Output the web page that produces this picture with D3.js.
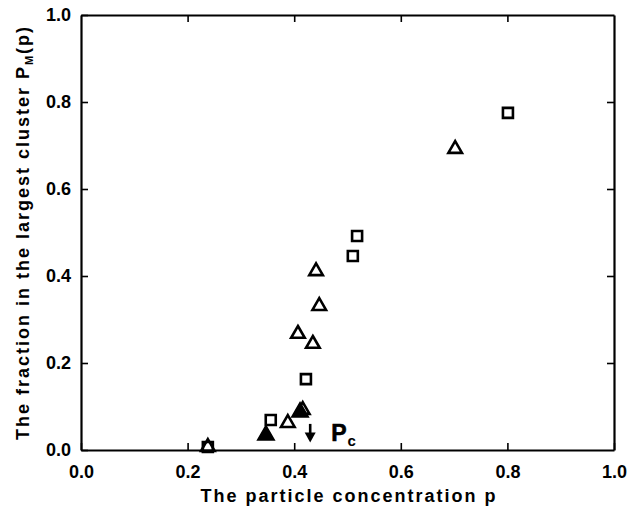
<!DOCTYPE html>
<html>
<head>
<meta charset="utf-8">
<script src="https://cdn.jsdelivr.net/npm/d3@7"></script>
<style>
  body { margin: 0; background: #fff; }
  text { font-family: "Liberation Sans", Arial, sans-serif; font-weight: bold; fill: #000; }
</style>
</head>
<body>
<div id="main"></div>
<script>
// open squares
const squaresX = [0.238, 0.356, 0.422, 0.510, 0.518, 0.801];
const squaresY = [0.007, 0.069, 0.163, 0.446, 0.492, 0.775];
// open triangles
const trianglesX = [0.238, 0.388, 0.416, 0.407, 0.435, 0.447, 0.441, 0.702];
const trianglesY = [0.007, 0.062, 0.092, 0.267, 0.244, 0.331, 0.411, 0.692];
// filled triangles
const filledX = [0.347, 0.411];
const filledY = [0.034, 0.087];

const tickValues = [0.0, 0.2, 0.4, 0.6, 0.8, 1.0];
const xTitle = "The particle concentration p";
const yTitle = "The fraction in the largest cluster P";
const pc = 0.43;
const pcArrow = [0.06, 0.017];

const width = 638, height = 511;
const margin = ({ top: 15, right: 24, bottom: 61, left: 81 });

const x = d3.scaleLinear().domain([0, 1]).range([margin.left, width - margin.right]);
const y = d3.scaleLinear().domain([0, 1]).range([height - margin.bottom, margin.top]);

const svg = d3.create("svg")
    .attr("width", width)
    .attr("height", height)
    .attr("viewBox", [0, 0, width, height]);

const tk = 7;
const fmt = d3.format(".1f");

// bottom axis, ticks inward
svg.append("g")
    .attr("transform", `translate(0,${y(0)})`)
    .call(d3.axisBottom(x).tickValues(tickValues).tickFormat(fmt).tickSizeInner(-tk).tickSizeOuter(0).tickPadding(15))
    .call(g => g.selectAll(".tick line").attr("stroke-width", 1.6))
    .call(g => g.select(".domain").attr("stroke-width", 2.2))
    .call(g => g.selectAll(".tick text").attr("font-size", 18).attr("dy", "0.72em"));

// top axis
svg.append("g")
    .attr("transform", `translate(0,${y(1)})`)
    .call(d3.axisTop(x).tickValues(tickValues.slice(1, -1)).tickFormat("").tickSizeInner(-tk).tickSizeOuter(0))
    .call(g => g.selectAll(".tick line").attr("stroke-width", 1.6))
    .call(g => g.select(".domain").attr("stroke-width", 2.2));

// left axis
svg.append("g")
    .attr("transform", `translate(${x(0)},0)`)
    .call(d3.axisLeft(y).tickValues(tickValues).tickFormat(fmt).tickSizeInner(-tk).tickSizeOuter(0).tickPadding(10))
    .call(g => g.selectAll(".tick line").attr("stroke-width", 1.6))
    .call(g => g.select(".domain").attr("stroke-width", 2.2))
    .call(g => g.selectAll(".tick text").attr("font-size", 18));

// right axis
svg.append("g")
    .attr("transform", `translate(${x(1)},0)`)
    .call(d3.axisRight(y).tickValues(tickValues.slice(1, -1)).tickFormat("").tickSizeInner(-tk).tickSizeOuter(0))
    .call(g => g.selectAll(".tick line").attr("stroke-width", 1.6))
    .call(g => g.select(".domain").attr("stroke-width", 2.2));

svg.selectAll(".domain").attr("stroke", "#000");

// markers
const sq = d3.symbol().type(d3.symbolSquare).size(100);
const tri = d3.symbol().type(d3.symbolTriangle).size(80);
const triF = d3.symbol().type(d3.symbolTriangle).size(120);

svg.append("g")
    .selectAll("path")
    .data(d3.zip(squaresX, squaresY))
    .join("path")
    .attr("transform", d => `translate(${x(d[0])},${y(d[1])})`)
    .attr("d", sq)
    .attr("fill", "none")
    .attr("stroke", "#000")
    .attr("stroke-width", 2.6);

svg.append("g")
    .selectAll("path")
    .data(d3.zip(trianglesX, trianglesY))
    .join("path")
    .attr("transform", d => `translate(${x(d[0])},${y(d[1])})`)
    .attr("d", tri)
    .attr("fill", "none")
    .attr("stroke", "#000")
    .attr("stroke-width", 2.6)
    .attr("stroke-linejoin", "miter");

svg.append("g")
    .selectAll("path")
    .data(d3.zip(filledX, filledY))
    .join("path")
    .attr("transform", d => `translate(${x(d[0])},${y(d[1])})`)
    .attr("d", triF)
    .attr("fill", "#000")
    .attr("stroke", "#000")
    .attr("stroke-width", 1.5);

// Pc arrow
const ax = x(pc), ay0 = y(pcArrow[0]), ay1 = y(pcArrow[1]);
svg.append("line")
    .attr("x1", ax).attr("x2", ax)
    .attr("y1", ay0).attr("y2", ay1 - 8)
    .attr("stroke", "#000").attr("stroke-width", 2.6);
svg.append("path")
    .attr("d", `M${ax - 5.5},${ay1 - 10}L${ax + 5.5},${ay1 - 10}L${ax},${ay1}Z`)
    .attr("fill", "#000");

const pcText = svg.append("text")
    .attr("x", ax + 21)
    .attr("y", ay1 - 2)
    .attr("font-size", 23)
    .attr("font-weight", "normal")
    .attr("stroke", "#000")
    .attr("stroke-width", 0.6)
    .text("P");
pcText.append("tspan")
    .attr("dx", 1)
    .attr("dy", 5)
    .attr("font-size", 15)
    .attr("font-weight", "bold")
    .attr("stroke-width", 0)
    .text("c");

// axis titles
svg.append("text")
    .attr("x", 349)
    .attr("y", 502)
    .attr("text-anchor", "middle")
    .attr("font-size", 18)
    .attr("letter-spacing", 2)
    .text(xTitle);

const yt = svg.append("text")
    .attr("transform", `translate(29,${(y(0) + y(1)) / 2}) rotate(-90)`)
    .attr("text-anchor", "middle")
    .attr("font-size", 18)
    .attr("letter-spacing", 2)
    .text(yTitle);
yt.append("tspan").attr("dy", 4).attr("font-size", 11).text("M");
yt.append("tspan").attr("dy", -4).text("(p)");

d3.select("#main").append(() => svg.node());
</script>
</body>
</html>
